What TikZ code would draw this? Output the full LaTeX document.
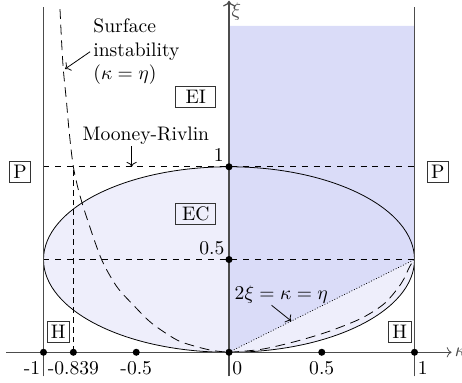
\documentclass[tikz,border=0pt]{standalone}
\usepackage{amsmath,amssymb}
\usepackage{tikz}
\usetikzlibrary{arrows.meta}
\definecolor{stabblue}{RGB}{218,220,248}
\definecolor{ellblue}{RGB}{238,238,251}

\begin{document}
\begin{tikzpicture}[x=3.33cm,y=3.33cm,
  axisline/.style={black!70},
  regionbox/.style={draw=black!80,inner xsep=2pt,inner ysep=1.8pt},
  wideregion/.style={regionbox,minimum width=20.4pt},
  ticklab/.style={inner sep=1.5pt,yshift=-2.9pt},
  dot/.style={circle,fill,inner sep=0pt,minimum size=3.6pt},
  longdash/.style={dash pattern=on 5pt off 3pt}]
  \useasboundingbox (-1.2345,-.1655) rectangle (1.256,1.899);

  % shaded regions
  \fill[ellblue] (0,.5) ellipse [x radius=1,y radius=.5];
  \fill[stabblue] (0,0)--(1,.5)--(1,1.759)--(0,1.759)--cycle;

  % guide lines
  \draw[dashed] (-1,1)--(1,1);
  \draw[dashed] (-1,.5)--(1,.5);
  \draw[densely dashed] (-.839,0)--(-.839,1);
  \draw[densely dotted] (0,0)--(1,.5);
  \draw (0,.5) ellipse [x radius=1,y radius=.5];

  % surface instability
  \draw[longdash] plot[smooth] coordinates {(-.911,1.85) (-.903,1.684) (-.893,1.523)
    (-.877,1.361) (-.861,1.183) (-.839,1) (-.805,.85) (-.755,.69) (-.686,.498)
    (-.605,.354) (-.516,.255) (-.417,.157) (-.282,.067) (-.174,.03) (-.085,.009) (0,0)};
  \draw[longdash] plot[smooth] coordinates {(0,0) (.174,.016) (.354,.057) (.534,.111)
    (.713,.183) (.839,.264) (.929,.372) (.974,.462) (1,.5)};

  % axes
  \foreach \s in {-1,1}
    \draw[axisline] (\s,-.13)--(\s,1.862);
  \draw[axisline,->] (-1.2,0)--(1.2,0) node[anchor=west,inner sep=1.5pt] (kappa) {$\kappa$};
  \draw[axisline,semithick,->] (0,-.13)--(0,1.895) node[anchor=north west,inner sep=1pt] (xi) {$\xi$};

  \foreach \x/\n in {-1/m1,-.839/mr,-.5/mh,0/o,.5/h,1/one}
    \node[dot] (d\n) at (\x,0) {};
  \node[dot] (dxh) at (0,.5) {};
  \node[dot] (dxo) at (0,1) {};

  \node[ticklab,anchor=north east] (lm1) at (dm1) {-1};
  \node[ticklab,anchor=north] (lmr) at (dmr) {-0.839};
  \node[ticklab,anchor=north] (lmh) at (dmh) {-0.5};
  \node[ticklab,anchor=north west] (lo) at (do) {0};
  \node[ticklab,anchor=north] (lh) at (dh) {0.5};
  \node[ticklab,anchor=north west] (lone) at (done) {1};
  \node[anchor=south east,inner sep=2.2pt] (lxh) at (dxh) {0.5};
  \node[anchor=south east,inner sep=2.5pt] (lxo) at (dxo) {1};

  % regions
  \node[regionbox] (pl) at (-1.127,.972) {P};
  \node[regionbox] (pr) at (1.126,.972) {P};
  \node[wideregion] (ei) at (-.179,1.376) {EI};
  \node[wideregion] (ec) at (-.179,.747) {EC};
  \node[regionbox] (hl) at (-.92,.111) {H};
  \node[regionbox] (hr) at (.92,.111) {H};

  % labels
  \node[align=left,anchor=west,inner sep=1.5pt] (surf) at (-.749,1.62)
    {Surface\\instability\\($\kappa=\eta$)};
  \coordinate (surfpt) at (-.884,1.527);
  \draw[->] (surf.west)--(surfpt);

  \node[inner sep=.5pt] (mooney) at (-.448,1.166) {Mooney-Rivlin};
  \coordinate (mooneypt) at (-.525,1);
  \draw[->] (mooney.south -| mooneypt)--(mooneypt);

  \node[inner sep=1pt] (diag) at (.282,.313) {$2\xi=\kappa=\eta$};
  \coordinate (diagpt) at (.336,.168);
  \draw[->] ([xshift=-5pt]diag.south)--(diagpt);
\end{tikzpicture}
\end{document}
